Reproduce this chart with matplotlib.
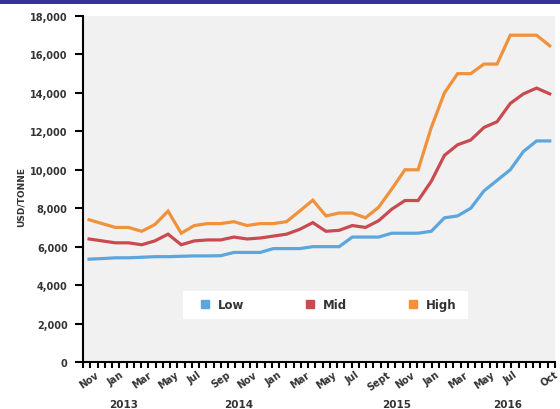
import matplotlib
matplotlib.use('Agg')
import matplotlib.pyplot as plt
import matplotlib.patches as patches
from matplotlib.lines import Line2D
import matplotlib.transforms as mtransforms
import numpy as np

# Data: monthly prices, Nov 2013 .. Oct 2016 (USD/tonne)
months = ['Nov', 'Dec', 'Jan', 'Feb', 'Mar', 'Apr', 'May', 'Jun', 'Jul', 'Aug', 'Sep', 'Oct',
          'Nov', 'Dec', 'Jan', 'Feb', 'Mar', 'Apr', 'May', 'Jun', 'Jul', 'Aug', 'Sept', 'Oct',
          'Nov', 'Dec', 'Jan', 'Feb', 'Mar', 'Apr', 'May', 'Jun', 'Jul', 'Aug', 'Sep', 'Oct']
tick_idx = [0, 2, 4, 6, 8, 10, 12, 14, 16, 18, 20, 22, 24, 26, 28, 30, 32, 35]
years = ['2013', '2014', '2015', '2016']
year_pos = [2.6, 11.4, 23.4, 31.8]

low = [5350, 5380, 5420, 5420, 5450, 5480, 5480, 5500, 5520, 5520, 5530, 5700,
       5700, 5700, 5900, 5900, 5900, 6000, 6000, 6000, 6500, 6500, 6500, 6700,
       6700, 6700, 6800, 7500, 7600, 8000, 8900, 9450, 10000, 10950, 11500, 11500]
mid = [6400, 6300, 6200, 6200, 6100, 6300, 6650, 6100, 6300, 6350, 6350, 6500,
       6400, 6450, 6550, 6650, 6900, 7250, 6800, 6850, 7100, 7000, 7350, 7950,
       8400, 8400, 9400, 10750, 11300, 11550, 12200, 12500, 13450, 13950, 14250, 13950]
high = [7400, 7200, 7000, 7000, 6800, 7150, 7850, 6700, 7100, 7200, 7200, 7300,
        7100, 7200, 7200, 7300, 7850, 8420, 7600, 7750, 7750, 7500, 8050, 9000,
        10000, 10000, 12200, 14000, 15000, 15000, 15500, 15500, 17000, 17000, 17000, 16450]

series = [('Low', low, '#5ba6dc'), ('Mid', mid, '#c94b51'), ('High', high, '#f0913b')]

txt_color = '#333333'

fig = plt.figure(figsize=(5.6, 4.1), dpi=100)
fig.patch.set_facecolor('white')

# navy strip on top
fig.add_artist(patches.Rectangle((0, 1 - 5 / 410), 1, 5 / 410, transform=fig.transFigure,
                                 facecolor='#333399', edgecolor='none'))

ax = fig.add_axes([83 / 560, 47 / 410, 472 / 560, 346 / 410])
ax.set_facecolor('#f1f1f1')

x = np.arange(len(months))
for name, vals, col in series:
    ax.plot(x, vals, color=col, linewidth=2.3, solid_joinstyle='miter')

xmin, xmax = -0.46, 35.4
ax.set_xlim(xmin, xmax)
ax.set_ylim(0, 18000)

for s in ['top', 'right']:
    ax.spines[s].set_visible(False)
for s in ['left', 'bottom']:
    ax.spines[s].set_linewidth(1.5)
    ax.spines[s].set_color('black')

ax.set_yticks(np.arange(0, 18001, 2000))
ax.set_yticklabels([f'{v:,}' for v in range(0, 18001, 2000)], fontsize=7,
                   fontweight='bold', color=txt_color)
ax.tick_params(axis='y', length=6, width=1.5, pad=5)

ax.set_xticks(tick_idx)
ax.set_xticklabels([months[i] for i in tick_idx], rotation=35, ha='center',
                   fontsize=7, fontweight='bold', color=txt_color)
ax.tick_params(axis='x', which='major', length=0, pad=5)
ax.set_xticks(np.linspace(xmin, xmax, 66), minor=True)
ax.tick_params(axis='x', which='minor', length=4, width=1.5)

# year labels under the month labels
trans = mtransforms.blended_transform_factory(ax.transData, fig.transFigure)
for yr, xp in zip(years, year_pos):
    ax.text(xp, 5 / 410, yr, transform=trans, ha='center', va='center',
            fontsize=7.5, fontweight='bold', color=txt_color, clip_on=False)

fig.text(21 / 560, 1 - 197 / 410, 'USD/TONNE', rotation=90, ha='center', va='center',
         fontsize=6.5, fontweight='bold', color=txt_color)

# legend on a white box
ax.add_patch(patches.Rectangle((0.212, 0.124), 0.604, 0.081, transform=ax.transAxes,
                               facecolor='white', edgecolor='none', zorder=3))
handles = [Line2D([], [], marker='s', linestyle='none', markersize=6,
                  markerfacecolor=col, markeredgecolor=col) for _, _, col in series]
leg = ax.legend(handles, [n for n, _, _ in series], loc='center', bbox_to_anchor=(0.52, 0.165),
                ncol=3, frameon=False, handlelength=0.8, handletextpad=0.7, columnspacing=5.2,
                prop={'size': 8.5, 'weight': 'bold'})
for t in leg.get_texts():
    t.set_color(txt_color)
leg.set_zorder(4)

plt.savefig('out.png', dpi=100)
